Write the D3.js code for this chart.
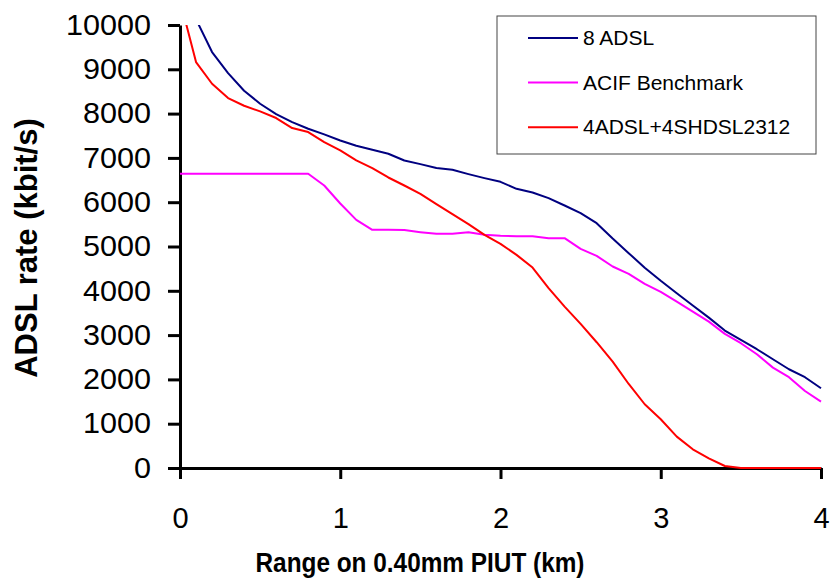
<!DOCTYPE html>
<html>
<head>
<meta charset="utf-8">
<script src="https://cdn.jsdelivr.net/npm/d3@7"></script>
<style>
  html, body { margin: 0; padding: 0; background: #fff; }
  svg { display: block; font-family: "Liberation Sans", Arial, sans-serif; }
</style>
</head>
<body>
<svg id="chart" width="830" height="586"></svg>
<script>
// Range along the cable (km)
const rangeKm = [0.0, 0.1, 0.2, 0.3, 0.4, 0.5, 0.6, 0.7, 0.8, 0.9,
                 1.0, 1.1, 1.2, 1.3, 1.4, 1.5, 1.6, 1.7, 1.8, 1.9,
                 2.0, 2.1, 2.2, 2.3, 2.4, 2.5, 2.6, 2.7, 2.8, 2.9,
                 3.0, 3.1, 3.2, 3.3, 3.4, 3.5, 3.6, 3.7, 3.8, 3.9, 4.0];

// ADSL rate (kbit/s) for each scenario
const adsl8 = [null, 10130, 9390, 8915, 8516, 8222, 7989, 7808, 7657, 7530,
               7393, 7273, 7183, 7093, 6942, 6860, 6770, 6731, 6634, 6544,
               6460, 6302, 6219, 6091, 5925, 5753, 5527, 5180, 4850, 4520,
               4225, 3946, 3667, 3395, 3102, 2891, 2681, 2455, 2229, 2049, 1800];
const acifBenchmark = [6641, 6641, 6641, 6641, 6641, 6641, 6641, 6641, 6641, 6377,
                       5970, 5602, 5376, 5376, 5370, 5324, 5286, 5286, 5324, 5263,
                       5240, 5233, 5233, 5188, 5188, 4947, 4789, 4548, 4382, 4156,
                       3975, 3757, 3531, 3305, 3027, 2817, 2568, 2266, 2049, 1739, 1498];
const adsl4Shdsl4 = [10560, 9164, 8674, 8350, 8177, 8050, 7900, 7673, 7583, 7357,
                     7168, 6942, 6770, 6558, 6377, 6189, 5956, 5730, 5505, 5263,
                     5060, 4811, 4525, 4059, 3644, 3253, 2839, 2401, 1897, 1439,
                     1100, 708, 422, 219, 45, 0, 0, 0, 0, 0, 0];

const seriesNames = ["8 ADSL", "ACIF Benchmark", "4ADSL+4SHDSL2312"];
const seriesColors = ["#000080", "#ff00ff", "#ff0000"];
const seriesValues = [adsl8, acifBenchmark, adsl4Shdsl4];

const xTicks = [0, 1, 2, 3, 4];
const yTicks = [0, 1000, 2000, 3000, 4000, 5000, 6000, 7000, 8000, 9000, 10000];

const svg = d3.select("#chart");
const plot = { left: 180, right: 821, top: 25, bottom: 468 };

const x = d3.scaleLinear().domain([0, 4]).range([plot.left, plot.right]);
const y = d3.scaleLinear().domain([0, 10000]).range([plot.bottom, plot.top]);

svg.append("defs").append("clipPath").attr("id", "plot-clip")
  .append("rect")
  .attr("x", plot.left).attr("y", plot.top)
  .attr("width", plot.right - plot.left + 2)
  .attr("height", plot.bottom - plot.top + 3);

// Axes
const yAxis = svg.append("g")
  .attr("transform", `translate(${plot.left},0)`)
  .call(d3.axisLeft(y).tickValues(yTicks).tickFormat(d3.format("d"))
    .tickSize(12).tickPadding(17).tickSizeOuter(0));
const xAxis = svg.append("g")
  .attr("transform", `translate(0,${plot.bottom})`)
  .call(d3.axisBottom(x).tickValues(xTicks).tickFormat(d3.format("d"))
    .tickSize(11).tickPadding(28).tickSizeOuter(0));

[yAxis, xAxis].forEach(g => {
  g.select(".domain").attr("stroke", "#000").attr("stroke-width", 3);
  g.selectAll(".tick line").attr("stroke", "#000").attr("stroke-width", 3);
  g.selectAll(".tick text")
    .attr("fill", "#000")
    .style("font-family", "'Liberation Sans', Arial, sans-serif")
    .style("font-size", "29px");
});
yAxis.selectAll(".tick text").attr("textLength", d => String(d).length * 17)
  .attr("lengthAdjust", "spacingAndGlyphs");

// Axis titles
svg.append("text")
  .attr("x", 420).attr("y", 572)
  .attr("text-anchor", "middle")
  .attr("textLength", 329).attr("lengthAdjust", "spacingAndGlyphs")
  .style("font-size", "27px").style("font-weight", "bold")
  .text("Range on 0.40mm PIUT (km)");

svg.append("text")
  .attr("transform", "translate(37,248) rotate(-90)")
  .attr("text-anchor", "middle")
  .style("font-size", "31px").style("font-weight", "bold")
  .text("ADSL rate (kbit/s)");

// Series lines
const line = d3.line()
  .defined(d => d[1] !== null)
  .x(d => x(d[0]))
  .y(d => y(d[1]));

const lines = svg.append("g").attr("clip-path", "url(#plot-clip)");
seriesValues.forEach((vals, i) => {
  lines.append("path")
    .datum(rangeKm.map((k, j) => [k, vals[j]]))
    .attr("fill", "none")
    .attr("stroke", seriesColors[i])
    .attr("stroke-width", 2)
    .attr("stroke-linejoin", "round")
    .attr("d", line);
});

// Legend
const legend = svg.append("g");
legend.append("rect")
  .attr("x", 497).attr("y", 16).attr("width", 319).attr("height", 138)
  .attr("fill", "#fff").attr("stroke", "#444").attr("stroke-width", 1);
seriesNames.forEach((name, i) => {
  const ly = 38 + i * 44.6;
  legend.append("line")
    .attr("x1", 528).attr("x2", 578).attr("y1", ly).attr("y2", ly)
    .attr("stroke", seriesColors[i]).attr("stroke-width", 2);
  legend.append("text")
    .attr("x", 583).attr("y", ly + 7)
    .style("font-size", "21px")
    .text(name);
});
</script>
</body>
</html>
